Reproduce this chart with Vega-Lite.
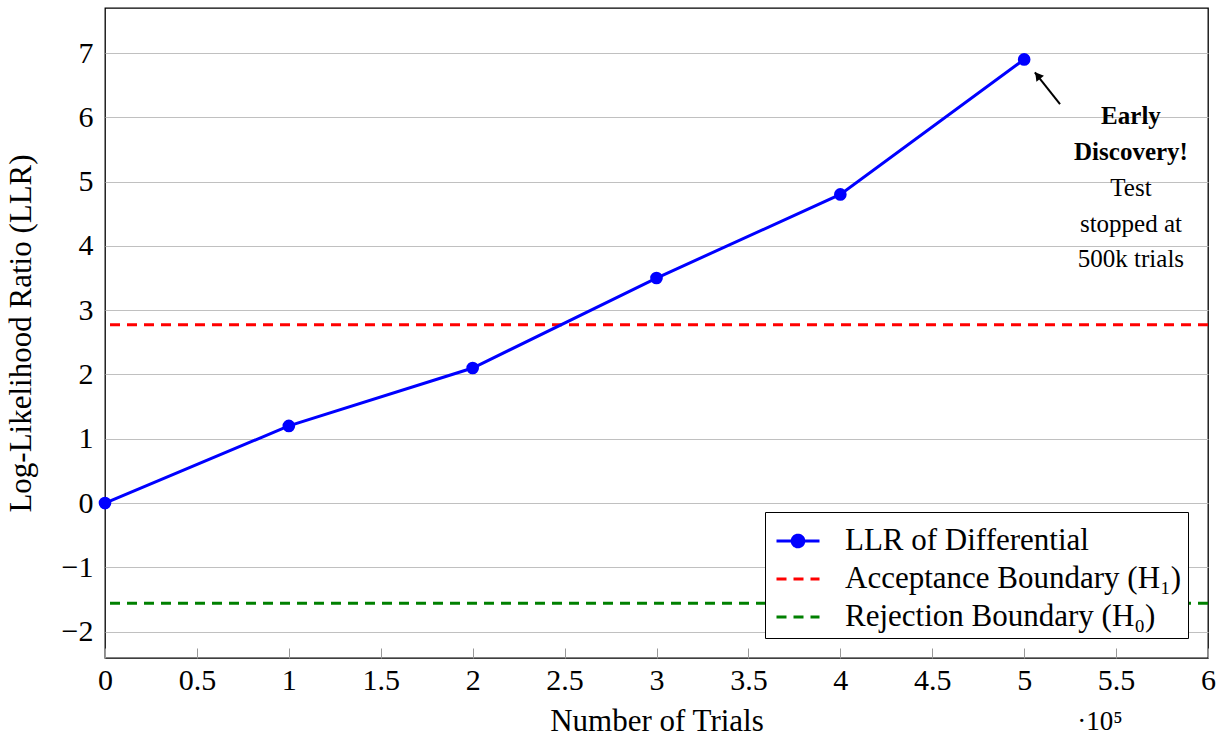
{
  "$schema": "https://vega.github.io/schema/vega-lite/v6.json",
  "width": 1103,
  "height": 650,
  "autosize": {"type": "none"},
  "padding": {"left": 105, "top": 8, "right": 12, "bottom": 80},
  "background": "white",
  "config": {
    "font": "Liberation Serif",
    "view": {"stroke": "black", "strokeWidth": 1.3},
    "axis": {"labelColor": "black", "titleColor": "black", "titleFontWeight": "normal", "labelFont": "Liberation Serif", "titleFont": "Liberation Serif"}
  },
  "datasets": {
    "llr": [
      {"trials": 0, "llr": 0},
      {"trials": 100000, "llr": 1.2},
      {"trials": 200000, "llr": 2.1},
      {"trials": 300000, "llr": 3.5},
      {"trials": 400000, "llr": 4.8},
      {"trials": 500000, "llr": 6.9}
    ],
    "bounds": [
      {"series": "Acceptance Boundary (H₁)", "llr": 2.7726},
      {"series": "Rejection Boundary (H₀)", "llr": -1.558}
    ],
    "arrow": [{"trials": 519500, "llr": 6.205, "trials2": 505800, "llr2": 6.70}],
    "head": [{"trials": 507800, "llr": 6.633}],
    "noteBold": [{"trials": 558100, "llr": 6.02, "text": "Early\nDiscovery!"}],
    "noteNormal": [{"trials": 558100, "llr": 4.9, "text": "Test\nstopped at\n500k trials"}],
    "exponent": [{"trials": 541200, "llr": -3.41, "text": "·10⁵"}]
  },
  "layer": [
    {
      "data": {"name": "bounds"},
      "mark": {"type": "rule", "strokeWidth": 3},
      "encoding": {
        "y": {
          "field": "llr", "type": "quantitative",
          "scale": {"domain": [-2.41, 7.7], "nice": false, "zero": false},
          "axis": {
            "values": [-2, -1, 0, 1, 2, 3, 4, 5, 6, 7],
            "format": "d",
            "grid": true, "gridColor": "#c0c0c0", "gridWidth": 1,
            "ticks": false, "domain": false,
            "labelFontSize": 30, "labelPadding": 12,
            "title": "Log-Likelihood Ratio (LLR)", "titleFontSize": 31, "titlePadding": 24
          }
        },
        "color": {
          "field": "series", "type": "nominal",
          "scale": {"domain": ["LLR of Differential", "Acceptance Boundary (H₁)", "Rejection Boundary (H₀)"], "range": ["#0000ff", "#ff0000", "#008000"]},
          "legend": {
            "title": null,
            "orient": "bottom-right",
            "offset": 20,
            "symbolType": "stroke",
            "symbolSize": 1849,
            "symbolStrokeWidth": 3,
            "labelFontSize": 31,
            "labelFont": "Liberation Serif",
            "labelColor": "black",
            "labelLimit": 600,
            "labelOffset": 24,
            "rowPadding": -5.5,
            "padding": 6,
            "symbolOffset": 4,
            "strokeColor": "black",
            "fillColor": "white",
            "cornerRadius": 0,
            "encode": {
              "symbols": {
                "update": {
                  "shape": {"signal": "datum.value === 'LLR of Differential' ? 'M-1,0H1M0.27,0A0.27,0.27,0,1,1,-0.27,0A0.27,0.27,0,1,1,0.27,0Z' : 'stroke'"},
                  "fill": {"signal": "datum.value === 'LLR of Differential' ? '#0000ff' : 'transparent'"}
                }
              }
            }
          }
        },
        "strokeDash": {
          "field": "series", "type": "nominal",
          "scale": {"domain": ["LLR of Differential", "Acceptance Boundary (H₁)", "Rejection Boundary (H₀)"], "range": [[1, 0], [10, 7], [10, 7]]}
        }
      }
    },
    {
      "data": {"name": "llr"},
      "mark": {"type": "line", "color": "#0000ff", "strokeWidth": 3},
      "encoding": {
        "x": {
          "field": "trials", "type": "quantitative",
          "scale": {"domain": [0, 600000], "nice": false, "zero": false},
          "axis": {
            "values": [0, 50000, 100000, 150000, 200000, 250000, 300000, 350000, 400000, 450000, 500000, 550000, 600000],
            "labelExpr": "format(datum.value / 100000, '~g')",
            "grid": false, "domain": false,
            "tickSize": -10, "tickColor": "#999999", "tickWidth": 1,
            "labelFontSize": 30, "labelPadding": 17, "labelFlush": false,
            "title": "Number of Trials", "titleFontSize": 31, "titlePadding": 11
          }
        },
        "y": {"field": "llr", "type": "quantitative"}
      }
    },
    {
      "data": {"name": "llr"},
      "mark": {"type": "circle", "color": "#0000ff", "size": 160, "opacity": 1},
      "encoding": {
        "x": {"field": "trials", "type": "quantitative"},
        "y": {"field": "llr", "type": "quantitative"}
      }
    },
    {
      "data": {"name": "arrow"},
      "mark": {"type": "rule", "color": "black", "strokeWidth": 2},
      "encoding": {
        "x": {"field": "trials", "type": "quantitative"},
        "y": {"field": "llr", "type": "quantitative"},
        "x2": {"field": "trials2"},
        "y2": {"field": "llr2"}
      }
    },
    {
      "data": {"name": "head"},
      "mark": {"type": "point", "shape": "triangle", "filled": true, "color": "black", "size": 90, "angle": 322, "opacity": 1},
      "encoding": {
        "x": {"field": "trials", "type": "quantitative"},
        "y": {"field": "llr", "type": "quantitative"}
      }
    },
    {
      "data": {"name": "noteBold"},
      "mark": {"type": "text", "fontSize": 25, "fontWeight": "bold", "font": "Liberation Serif", "lineBreak": "\n", "lineHeight": 36, "align": "center", "baseline": "middle", "color": "black"},
      "encoding": {
        "x": {"field": "trials", "type": "quantitative"},
        "y": {"field": "llr", "type": "quantitative"},
        "text": {"field": "text"}
      }
    },
    {
      "data": {"name": "noteNormal"},
      "mark": {"type": "text", "fontSize": 25, "font": "Liberation Serif", "lineBreak": "\n", "lineHeight": 35.5, "align": "center", "baseline": "middle", "color": "black"},
      "encoding": {
        "x": {"field": "trials", "type": "quantitative"},
        "y": {"field": "llr", "type": "quantitative"},
        "text": {"field": "text"}
      }
    },
    {
      "data": {"name": "exponent"},
      "mark": {"type": "text", "fontSize": 27, "font": "Liberation Serif", "align": "center", "baseline": "middle", "color": "black"},
      "encoding": {
        "x": {"field": "trials", "type": "quantitative"},
        "y": {"field": "llr", "type": "quantitative"},
        "text": {"field": "text"}
      }
    }
  ]
}
